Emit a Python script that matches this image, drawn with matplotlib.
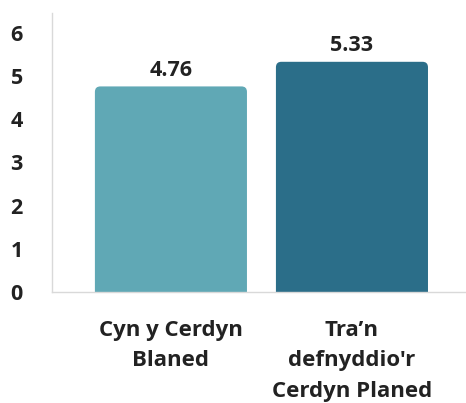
import matplotlib.pyplot as plt
from matplotlib.patches import FancyBboxPatch

# Data
categories = ["Cyn y Cerdyn\nBlaned", "Tra\u2019n\ndefnyddio'r\nCerdyn Planed"]
values = [4.76, 5.33]
bar_colors = ["#60a8b5", "#2b6e89"]
yticks = [0, 1, 2, 3, 4, 5, 6]

plt.rcParams['font.family'] = ['Open Sans', 'DejaVu Sans']

fig = plt.figure(figsize=(4.66, 4.03), dpi=100)
ax = fig.add_axes([52 / 466, 1 - 292 / 403, 414 / 466, 279 / 403])

x = list(range(len(values)))
bars = ax.bar(x, values, width=0.84, color=bar_colors)

ax.set_xlim(-0.657, 1.63)
ax.set_ylim(0, 6.46)

# swap plain bars for rounded-top ones
for b, c in zip(bars, bar_colors):
    b.set_visible(False)
    patch = FancyBboxPatch((b.get_x(), -0.3), b.get_width(), b.get_height() + 0.3,
                           boxstyle="round,pad=0,rounding_size=0.03",
                           mutation_aspect=4.2, facecolor=c, edgecolor="none")
    ax.add_patch(patch)
    patch.set_clip_path(ax.patch)

for xi, v in zip(x, values):
    ax.annotate(f"{v:.2f}", (xi, v), xytext=(0, 4), textcoords="offset points",
                ha="center", va="bottom", fontsize=15.5, fontweight="bold",
                color="#222222")

ax.set_yticks(yticks)
ax.set_yticklabels([str(t) for t in yticks], fontsize=15.5, fontweight="bold",
                   color="#222222")
ax.set_xticks(x)
ax.set_xticklabels(categories, fontsize=16, fontweight="bold", color="#222222",
                   linespacing=1.6)
ax.tick_params(axis="y", length=0, pad=21)
ax.tick_params(axis="x", length=0, pad=20)

for s in ["top", "right"]:
    ax.spines[s].set_visible(False)
for s in ["left", "bottom"]:
    ax.spines[s].set_color("#d9d9d9")
    ax.spines[s].set_linewidth(1)

fig.savefig("out.png", dpi=100)
